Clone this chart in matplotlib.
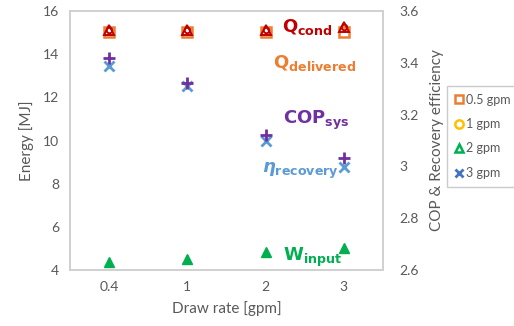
import matplotlib
matplotlib.use("Agg")
import matplotlib.pyplot as plt
from matplotlib.lines import Line2D

plt.rcParams['font.family'] = ['Lato', 'DejaVu Sans']

# data
draw_rates = ["0.4", "1", "2", "3"]
q_cond = [15.1, 15.1, 15.1, 15.25]         # MJ
q_delivered = [15.05, 15.05, 15.05, 15.05]  # MJ
w_input = [4.37, 4.5, 4.83, 5.0]            # MJ
cop_sys = [3.42, 3.322, 3.12, 3.032]        # right axis
eta_recovery = [3.388, 3.31, 3.10, 2.998]   # right axis

grey = "#595959"
spine_col = "#d0d0d0"

fig = plt.figure(figsize=(5.14, 3.26), dpi=100)
ax = fig.add_axes([70 / 514, 56 / 326, 313 / 514, 259 / 326])
ax2 = ax.twinx()

x = list(range(len(draw_rates)))

ax.plot(x, q_delivered, ls="none", marker="s", ms=7, mfc="none", mec="#ed7d31", mew=1.8)
ax.plot(x, q_cond, ls="none", marker="^", ms=7, mfc="none", mec="#c00000", mew=1.4)
ax.plot(x, q_cond, ls="none", marker="o", ms=4, mfc="none", mec="#c00000", mew=1.4)
ax.plot(x, w_input, ls="none", marker="^", ms=7, color="#00b050")

ax2.plot(x, eta_recovery, ls="none", marker="x", ms=7, mew=2, color="#5b9bd5")
ax2.plot(x, cop_sys, ls="none", marker="+", ms=8, mew=2, color="#7030a0")

ax.set_xlim(-0.5, len(draw_rates) - 0.5)
ax.set_ylim(4, 16)
ax2.set_ylim(2.6, 3.6)
ax.set_xticks(x)
ax.set_xticklabels(draw_rates)
ax.set_yticks([4, 6, 8, 10, 12, 14, 16])
ax2.set_yticks([2.6, 2.8, 3.0, 3.2, 3.4, 3.6])
ax2.set_yticklabels(["2.6", "2.8", "3", "3.2", "3.4", "3.6"])

for a in (ax, ax2):
    a.tick_params(length=0, colors=grey, labelsize=10, pad=8)
    for s in a.spines.values():
        s.set_color(spine_col)
        s.set_linewidth(1.2)
ax2.tick_params(pad=12)

ax.set_xlabel("Draw rate [gpm]", color=grey, fontsize=11, labelpad=6)
ax.set_ylabel("Energy [MJ]", color=grey, fontsize=11, labelpad=6)
ax2.set_ylabel("COP & Recovery efficiency", color=grey, fontsize=11, labelpad=8)

# series labels inside the plot
ax.text(2.21, 15.25, r"$\mathbf{Q_{cond}}$", color="#c00000", fontsize=13, va="center")
ax.text(2.1, 13.6, r"$\mathbf{Q_{delivered}}$", color="#ed7d31", fontsize=13, va="center")
ax.text(2.22, 10.95, r"$\mathbf{COP_{sys}}$", color="#7030a0", fontsize=13, va="center")
ax.text(1.95, 8.6, r"$\boldsymbol{\eta}_{\mathbf{recovery}}$", color="#5b9bd5", fontsize=13, va="center")
ax.text(2.22, 4.6, r"$\mathbf{W_{input}}$", color="#00b050", fontsize=13, va="center")

handles = [
    Line2D([], [], ls="none", marker="s", ms=6, mfc="none", mec="#ed7d31", mew=1.8),
    Line2D([], [], ls="none", marker="o", ms=6, mfc="none", mec="#ffc000", mew=1.8),
    Line2D([], [], ls="none", marker="^", ms=6, mfc="none", mec="#00b050", mew=1.8),
    Line2D([], [], ls="none", marker="x", ms=6, mew=2, color="#4472c4"),
]
labels = ["0.5 gpm", "1 gpm", "2 gpm", "3 gpm"]
leg = fig.legend(handles, labels, loc="upper left", bbox_to_anchor=(447 / 514, 1 - 86 / 326),
                 frameon=True, fancybox=False, fontsize=9, handlelength=0.7,
                 handletextpad=0.25, labelspacing=1.0, borderpad=0.6, borderaxespad=0)
leg.get_frame().set_edgecolor("#bfbfbf")
for t in leg.get_texts():
    t.set_color(grey)

fig.savefig("out.png", dpi=100)
